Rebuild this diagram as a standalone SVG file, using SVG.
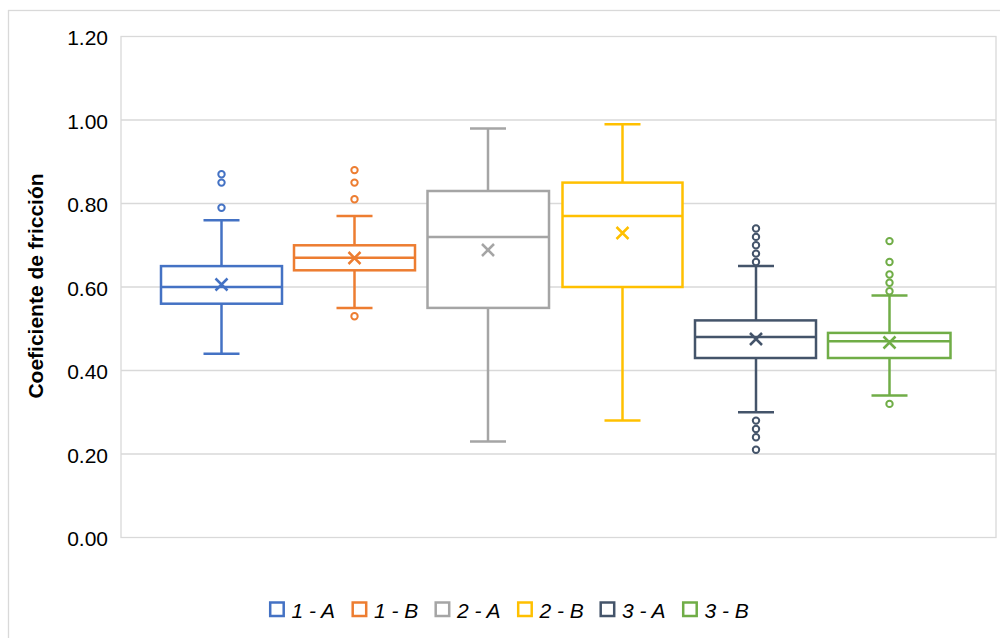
<svg xmlns="http://www.w3.org/2000/svg" width="1000" height="638" viewBox="0 0 1000 638">
<style>
text{font-family:"Liberation Sans",Arial,sans-serif;fill:#000}
.tick{font-size:21px;text-anchor:end}
.leg{font-size:21px;font-style:italic}
.grid{stroke:#D9D9D9;stroke-width:1.3;fill:none}
.bx{stroke-width:2.5;fill:#fff}
.ln{stroke-width:2.5;fill:none}
.out{stroke-width:2;fill:#fff}
.s1{stroke:#4472C4}.s2{stroke:#ED7D31}.s3{stroke:#A5A5A5}.s4{stroke:#FFC000}.s5{stroke:#44546A}.s6{stroke:#70AD47}
</style>
<rect x="0" y="0" width="1000" height="638" fill="#fff"/>
<rect x="8.5" y="10.5" width="1000" height="640" fill="#fff" stroke="#D9D9D9" stroke-width="1.3"/>
<g id="plot-area">
<rect x="121" y="36.5" width="875" height="501" class="grid"/>
<line x1="121" y1="120" x2="996" y2="120" class="grid"/>
<line x1="121" y1="203.5" x2="996" y2="203.5" class="grid"/>
<line x1="121" y1="287" x2="996" y2="287" class="grid"/>
<line x1="121" y1="370.5" x2="996" y2="370.5" class="grid"/>
<line x1="121" y1="454" x2="996" y2="454" class="grid"/>
</g>
<g id="y-axis">
<text class="tick" x="108" y="45">1.20</text>
<text class="tick" x="108" y="128.5">1.00</text>
<text class="tick" x="108" y="212">0.80</text>
<text class="tick" x="108" y="295.5">0.60</text>
<text class="tick" x="108" y="379">0.40</text>
<text class="tick" x="108" y="462.5">0.20</text>
<text class="tick" x="108" y="546">0.00</text>
<text transform="translate(43,286) rotate(-90)" text-anchor="middle" font-size="21" font-weight="bold">Coeficiente de fricción</text>
</g>
<g id="series-1A" class="s1">
<line class="ln" x1="221.5" y1="220.2" x2="221.5" y2="266.1"/>
<line class="ln" x1="221.5" y1="303.7" x2="221.5" y2="353.8"/>
<line class="ln" x1="203.5" y1="220.2" x2="239.5" y2="220.2"/>
<line class="ln" x1="203.5" y1="353.8" x2="239.5" y2="353.8"/>
<rect class="bx" x="161" y="266.1" width="121" height="37.6"/>
<line class="ln" x1="161" y1="287" x2="282" y2="287"/>
<path class="ln" d="M215.5 278.5l12 12M227.5 278.5l-12 12"/>
<circle class="out" cx="221.5" cy="207.7" r="3.2"/>
<circle class="out" cx="221.5" cy="182.6" r="3.2"/>
<circle class="out" cx="221.5" cy="174.3" r="3.2"/>
</g>
<g id="series-1B" class="s2">
<line class="ln" x1="354.5" y1="216" x2="354.5" y2="245.3"/>
<line class="ln" x1="354.5" y1="270.3" x2="354.5" y2="307.9"/>
<line class="ln" x1="336.5" y1="216" x2="372.5" y2="216"/>
<line class="ln" x1="336.5" y1="307.9" x2="372.5" y2="307.9"/>
<rect class="bx" x="294" y="245.3" width="121" height="25"/>
<line class="ln" x1="294" y1="257.8" x2="415" y2="257.8"/>
<path class="ln" d="M348.5 252l12 12M360.5 252l-12 12"/>
<circle class="out" cx="354.5" cy="199.3" r="3.2"/>
<circle class="out" cx="354.5" cy="182.6" r="3.2"/>
<circle class="out" cx="354.5" cy="170.1" r="3.2"/>
<circle class="out" cx="354.5" cy="316.2" r="3.2"/>
</g>
<g id="series-2A" class="s3">
<line class="ln" x1="488" y1="128.4" x2="488" y2="191"/>
<line class="ln" x1="488" y1="307.9" x2="488" y2="441.5"/>
<line class="ln" x1="470" y1="128.4" x2="506" y2="128.4"/>
<line class="ln" x1="470" y1="441.5" x2="506" y2="441.5"/>
<rect class="bx" x="427.5" y="191" width="121.5" height="116.9"/>
<line class="ln" x1="427.5" y1="236.9" x2="549" y2="236.9"/>
<path class="ln" d="M482 244l12 12M494 244l-12 12"/>
</g>
<g id="series-2B" class="s4">
<line class="ln" x1="622.5" y1="124.2" x2="622.5" y2="182.6"/>
<line class="ln" x1="622.5" y1="287" x2="622.5" y2="420.6"/>
<line class="ln" x1="604.5" y1="124.2" x2="640.5" y2="124.2"/>
<line class="ln" x1="604.5" y1="420.6" x2="640.5" y2="420.6"/>
<rect class="bx" x="562.5" y="182.6" width="120" height="104.4"/>
<line class="ln" x1="562.5" y1="216" x2="682.5" y2="216"/>
<path class="ln" d="M616.5 227l12 12M628.5 227l-12 12"/>
</g>
<g id="series-3A" class="s5">
<line class="ln" x1="756" y1="266.1" x2="756" y2="320.4"/>
<line class="ln" x1="756" y1="358" x2="756" y2="412.3"/>
<line class="ln" x1="738" y1="266.1" x2="774" y2="266.1"/>
<line class="ln" x1="738" y1="412.3" x2="774" y2="412.3"/>
<rect class="bx" x="695" y="320.4" width="121" height="37.6"/>
<line class="ln" x1="695" y1="337.1" x2="816" y2="337.1"/>
<path class="ln" d="M750 333l12 12M762 333l-12 12"/>
<circle class="out" cx="756" cy="228.5" r="3.2"/>
<circle class="out" cx="756" cy="236.9" r="3.2"/>
<circle class="out" cx="756" cy="245.3" r="3.2"/>
<circle class="out" cx="756" cy="253.6" r="3.2"/>
<circle class="out" cx="756" cy="262" r="3.2"/>
<circle class="out" cx="756" cy="420.6" r="3.2"/>
<circle class="out" cx="756" cy="429" r="3.2"/>
<circle class="out" cx="756" cy="437.3" r="3.2"/>
<circle class="out" cx="756" cy="449.8" r="3.2"/>
</g>
<g id="series-3B" class="s6">
<line class="ln" x1="889.5" y1="295.4" x2="889.5" y2="332.9"/>
<line class="ln" x1="889.5" y1="358" x2="889.5" y2="395.5"/>
<line class="ln" x1="871.5" y1="295.4" x2="907.5" y2="295.4"/>
<line class="ln" x1="871.5" y1="395.5" x2="907.5" y2="395.5"/>
<rect class="bx" x="828" y="332.9" width="122.5" height="25.1"/>
<line class="ln" x1="828" y1="341.3" x2="950.5" y2="341.3"/>
<path class="ln" d="M883.5 336.5l12 12M895.5 336.5l-12 12"/>
<circle class="out" cx="889.5" cy="241.1" r="3.2"/>
<circle class="out" cx="889.5" cy="262" r="3.2"/>
<circle class="out" cx="889.5" cy="274.5" r="3.2"/>
<circle class="out" cx="889.5" cy="282.8" r="3.2"/>
<circle class="out" cx="889.5" cy="291.2" r="3.2"/>
<circle class="out" cx="889.5" cy="403.9" r="3.2"/>
</g>
<g id="legend">
<rect x="270.2" y="602.5" width="13.5" height="13.5" fill="#fff" stroke-width="2.5" class="s1"/>
<text class="leg" x="291.5" y="617.5">1 - A</text>
<rect x="352.7" y="602.5" width="13.5" height="13.5" fill="#fff" stroke-width="2.5" class="s2"/>
<text class="leg" x="374" y="617.5">1 - B</text>
<rect x="435.7" y="602.5" width="13.5" height="13.5" fill="#fff" stroke-width="2.5" class="s3"/>
<text class="leg" x="457" y="617.5">2 - A</text>
<rect x="518.2" y="602.5" width="13.5" height="13.5" fill="#fff" stroke-width="2.5" class="s4"/>
<text class="leg" x="539.5" y="617.5">2 - B</text>
<rect x="600.7" y="602.5" width="13.5" height="13.5" fill="#fff" stroke-width="2.5" class="s5"/>
<text class="leg" x="622" y="617.5">3 - A</text>
<rect x="683.2" y="602.5" width="13.5" height="13.5" fill="#fff" stroke-width="2.5" class="s6"/>
<text class="leg" x="704.5" y="617.5">3 - B</text>
</g>
</svg>
